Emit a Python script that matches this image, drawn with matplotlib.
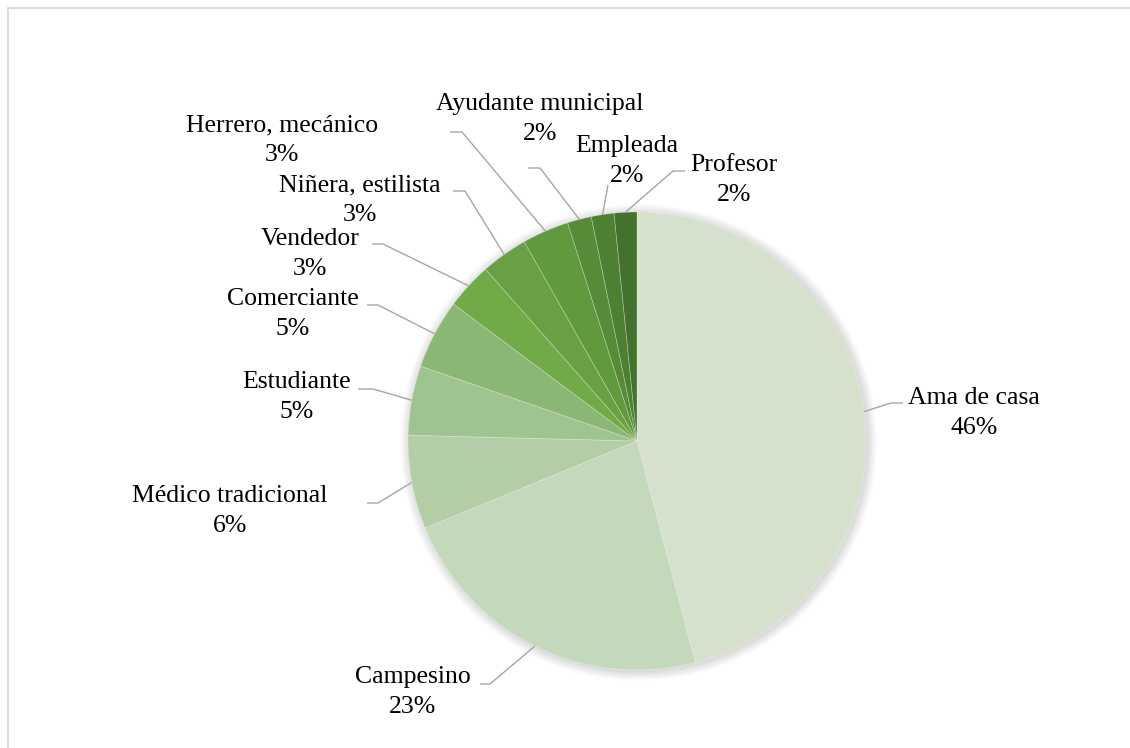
import numpy as np
import matplotlib
matplotlib.use("Agg")
import matplotlib.pyplot as plt
from matplotlib.patches import Circle

# ---- data ----
categories = ["Ama de casa", "Campesino", "Médico tradicional", "Estudiante",
              "Comerciante", "Vendedor", "Niñera, estilista", "Herrero, mecánico",
              "Ayudante municipal", "Empleada", "Profesor"]
share = [45.9, 22.9, 6.6, 4.9, 4.9, 3.3, 3.3, 3.3, 1.7, 1.6, 1.6]
pct_labels = ["46%", "23%", "6%", "5%", "5%", "3%", "3%", "3%", "2%", "2%", "2%"]
colors = ["#D5E1CD", "#C4D8BC", "#B3CEA7", "#A0C491", "#8AB874", "#70AB48",
          "#68A043", "#609A3D", "#578B38", "#4E8034", "#44712D"]

# ---- layout (image pixel coordinates, y down) ----
W, H = 1130, 748
center_img = (637, 441)
radius = 229
label_pos = [(974, 413), (413, 692), (230, 511), (297, 397), (293, 314),
             (310, 254), (360, 200), (282, 140), (540, 119), (627, 161), (734, 180)]
half_gap = 15  # half the distance between name line and percentage line
# elbow point and end point of leader lines
leader_pts = [[(891, 403), (903, 403)],
              [(490, 684), (480, 684)],
              [(378, 503), (367, 503)],
              [(373, 389), (358, 389)],
              [(378, 305), (367, 305)],
              [(383, 244), (372, 244)],
              [(465, 191), (453, 191)],
              [(462, 132), (450, 132)],
              [(540, 168), (528, 168)],
              [(608, 185)],
              [(673, 171), (685, 171)]]

def Y(y):
    return H - y

fig = plt.figure(figsize=(W / 100, H / 100), dpi=100)
ax = fig.add_axes([0, 0, 1, 1])
ax.set_xlim(0, W)
ax.set_ylim(0, H)
ax.set_aspect("equal")
ax.axis("off")

cx, cy = center_img[0], Y(center_img[1])

# soft shadow
for i in range(12):
    ax.add_patch(Circle((cx + 1.5, cy - 1.5), radius + 0.5 + i * 0.8,
                        facecolor="black", edgecolor="none",
                        alpha=0.010, zorder=1))

wedges, _ = ax.pie(share, colors=colors, startangle=90, counterclock=False,
                   radius=radius, center=(cx, cy), frame=True,
                   wedgeprops=dict(edgecolor=(1, 1, 1, 0.35), linewidth=0.5,
                                   zorder=2))
ax.set_xlim(0, W)
ax.set_ylim(0, H)
ax.axis("off")

font = dict(family="Liberation Serif", size=18.5, color="black")
for i, w in enumerate(wedges):
    mid = np.deg2rad((w.theta1 + w.theta2) / 2)
    sx = cx + radius * np.cos(mid)
    sy = cy + radius * np.sin(mid)
    xs = [sx] + [p[0] for p in leader_pts[i]]
    ys = [sy] + [Y(p[1]) for p in leader_pts[i]]
    ax.plot(xs, ys, color="#A6A6A6", lw=1.0, zorder=3, solid_capstyle="butt")
    lx, ly = label_pos[i]
    ax.text(lx, Y(ly - half_gap), categories[i], ha="center", va="center", **font)
    ax.text(lx, Y(ly + half_gap), pct_labels[i], ha="center", va="center", **font)

# chart border (top and left visible)
ax.plot([7.5, W], [Y(7.5), Y(7.5)], color="#D9D9D9", lw=1.3, zorder=0)
ax.plot([7.5, 7.5], [Y(7.5), 0], color="#D9D9D9", lw=1.3, zorder=0)

fig.savefig("out.png", dpi=100, facecolor="white")
